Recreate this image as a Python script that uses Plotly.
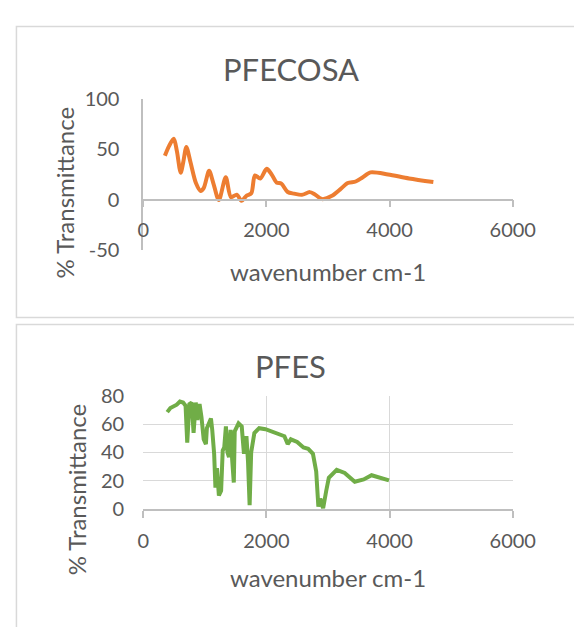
import plotly.graph_objects as go

# ---- data ----
wn_pfecosa = [352, 419, 496, 547, 609, 650, 701, 768, 856, 933, 984, 1070, 1138, 1228,
              1340, 1425, 1520, 1595, 1680, 1755, 1815, 1900, 2005, 2089, 2166, 2243,
              2346, 2449, 2577, 2705, 2783, 2905, 3065, 3194, 3322, 3450, 3560, 3690,
              3976, 4315, 4711]
t_pfecosa = [43.5, 53, 60.3, 48, 26.7, 37, 52, 37, 16.5, 8.6, 11.7, 28.6, 16.5, -0.3,
             22.2, 2.5, 5, -1, 4, 6.3, 24, 21, 30.5, 24.6, 17, 15.9,
             7.6, 6, 4.8, 7.5, 5.4, 0.6, 3.8, 10, 16.5, 18, 22, 27,
             25, 21, 17.5]

wn_pfes = [390, 441, 545, 596, 648, 688, 715, 750, 787, 818, 853, 880, 915, 946, 982,
           1018, 1034, 1100, 1121, 1152, 1173, 1198, 1229, 1265, 1291, 1316, 1343, 1368,
           1393, 1419, 1445, 1471, 1486, 1548, 1600, 1636, 1676, 1702, 1728, 1753, 1805,
           1883, 1985, 2088, 2191, 2293, 2346, 2397, 2500, 2602, 2679, 2756, 2809, 2844,
           2875, 2921, 2972, 3014, 3142, 3272, 3435, 3580, 3708, 3812, 3991]
t_pfes = [68.6, 71.5, 73.9, 76.1, 75.4, 73.2, 47, 74.3, 75.4, 53.8, 75.4, 63, 74.3, 65.2, 49.3,
          45.9, 57.2, 64, 56, 39, 15, 28.8, 9.4, 12.8, 41.3, 43.5, 58.4, 40,
          36.7, 56, 34.5, 18.6, 55, 60.6, 58.4, 39, 51.5, 33.3, 2.6, 40, 53.8,
          57.2, 56.5, 55, 53.1, 51.5, 45.9, 49.3, 47.4, 43.5, 42.5, 39, 26.5, 1.5,
          7.2, 0.3, 12.8, 22, 27.6, 25.4, 19.2, 20.8, 23.8, 22.4, 20.1]

x_ticks = [0, 2000, 4000, 6000]
y1_ticks = [-50, 0, 50, 100]
y1_labels = ["-50", "0", "50", "100"]
y2_ticks = [0, 20, 40, 60, 80]

titles = ["PFECOSA", "PFES"]
x_title = "wavenumber cm-1"
y_title = "% Transmittance"

# ---- layout helpers ----
W, H = 574, 627
def px(x):
    return x / W
def py(y):
    return 1 - y / H

FONT = "Lato"
GRAY = "#595959"
AX = "#bfbfbf"
GRID = "#d9d9d9"

fig = go.Figure()
fig.add_trace(go.Scatter(x=wn_pfecosa, y=t_pfecosa, mode="lines",
                         line=dict(color="#ED7D31", width=4, shape="spline", smoothing=0.8),
                         xaxis="x", yaxis="y", showlegend=False, hoverinfo="skip"))
fig.add_trace(go.Scatter(x=wn_pfes, y=t_pfes, mode="lines",
                         line=dict(color="#70AD47", width=4),
                         xaxis="x2", yaxis="y2", showlegend=False, hoverinfo="skip"))

xdom = [px(144.5), px(533.7)]
tickfont = dict(family=FONT, size=20, color=GRAY)

fig.update_layout(
    width=W, height=H, margin=dict(l=0, r=0, t=0, b=0),
    paper_bgcolor="white", plot_bgcolor="white",
    xaxis=dict(domain=xdom, range=[0, 6000], anchor="free", position=py(194),
               tickvals=x_ticks, ticks="outside", ticklen=7, tickcolor=AX, tickwidth=1.5,
               showline=True, linecolor=AX, linewidth=1.5, showgrid=False, zeroline=False,
               tickfont=tickfont, ticklabelstandoff=6),
    yaxis=dict(domain=[py(246.7), py(89)], range=[-50, 100], anchor="x",
               tickvals=y1_ticks, ticktext=y1_labels, ticks="", showline=True,
               linecolor=AX, linewidth=1.5,
               showgrid=False, zeroline=False, tickfont=tickfont, ticklabelstandoff=18),
    xaxis2=dict(domain=xdom, range=[0, 6000], anchor="y2",
                tickvals=x_ticks, ticks="outside", ticklen=7, tickcolor=AX, tickwidth=1.5,
                showline=True, linecolor=AX, linewidth=1.5, showgrid=True, gridcolor=GRID,
                gridwidth=1, zeroline=False, tickfont=tickfont, ticklabelstandoff=6),
    yaxis2=dict(domain=[py(515.5), py(398.3)], range=[0, 80], anchor="x2",
                tickvals=y2_ticks, ticks="", showline=False, showgrid=True, gridcolor=GRID,
                gridwidth=1, zeroline=False, tickfont=tickfont, ticklabelstandoff=18),
)

# chart-area borders
fig.add_shape(type="rect", xref="paper", yref="paper", x0=px(11), x1=1.05,
              y0=py(316.7), y1=py(14), line=dict(color=GRID, width=1.5), layer="below")
fig.add_shape(type="rect", xref="paper", yref="paper", x0=px(11), x1=1.05,
              y0=-0.05, y1=py(324), line=dict(color=GRID, width=1.5), layer="below")

ann = []
for t, yc in zip(titles, [58, 367.5]):
    ann.append(dict(text=t, x=px(300), y=py(yc), xref="paper", yref="paper",
                    showarrow=False, xanchor="center", yanchor="middle",
                    font=dict(family=FONT, size=31, color=GRAY)))
for yc in [269, 586.7]:
    ann.append(dict(text=x_title, x=px(339), y=py(yc), xref="paper", yref="paper",
                    showarrow=False, xanchor="center", yanchor="middle",
                    font=dict(family=FONT, size=24, color=GRAY)))
for xc, yc in [(62, 186.7), (74, 495)]:
    ann.append(dict(text=y_title, x=px(xc), y=py(yc), xref="paper", yref="paper",
                    showarrow=False, xanchor="center", yanchor="middle", textangle=-90,
                    font=dict(family=FONT, size=24, color=GRAY)))
fig.update_layout(annotations=ann)

fig.write_html("out.html")
